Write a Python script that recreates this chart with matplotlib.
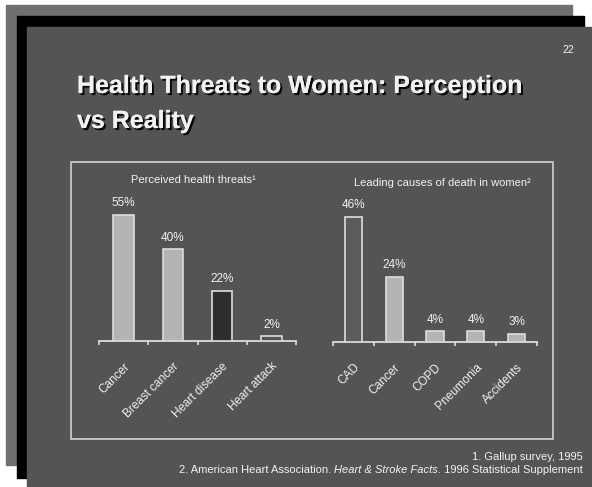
import numpy as np
import matplotlib.pyplot as plt
import matplotlib.patheffects as pe
from matplotlib.patches import Rectangle

plt.rcParams['font.family'] = ['Liberation Sans', 'DejaVu Sans']

# datos
perc_cats = ["Cancer", "Breast cancer", "Heart disease", "Heart attack"]
perc_vals = [55, 40, 22, 2]
death_cats = ["CAD", "Cancer", "COPD", "Pneumonia", "Accidents"]
death_vals = [46, 24, 4, 4, 3]

# colores
BG = "#545454"
LIGHT = "#b4b4b4"
DARK = "#2e2e2e"
EDGE = "#dcdcdc"
TXT = "#f2f2f2"
perc_colors = [LIGHT, LIGHT, DARK, BG]
death_colors = ["#5c5c5c", LIGHT, LIGHT, LIGHT, LIGHT]

W, H = 592, 487
fig = plt.figure(figsize=(W / 100, H / 100), dpi=100)
fig.patch.set_facecolor("white")

bg = fig.add_axes([0, 0, 1, 1])
bg.set_xlim(0, W)
bg.set_ylim(H, 0)
bg.axis("off")

# pila de diapositivas
bg.add_patch(Rectangle((6, 5), 566, 460, color="#707070", zorder=1))
bg.add_patch(Rectangle((17, 16), 567, 462, color="black", zorder=2))
bg.add_patch(Rectangle((27, 27), W - 27, H - 27, color=BG, zorder=3))
bg.add_patch(Rectangle((71, 162), 482, 277, fill=False, ec="#c8c8c8", lw=1.3, zorder=4))

shadow = [pe.withSimplePatchShadow(offset=(1.5, -1.5), shadow_rgbFace="black", alpha=0.9), pe.Normal()]
bg.text(77, 86, "Health Threats to Women: Perception", fontsize=18, fontweight="bold",
        color=TXT, va="center", ha="left", zorder=5, path_effects=shadow)
bg.text(77, 121, "vs Reality", fontsize=18, fontweight="bold",
        color=TXT, va="center", ha="left", zorder=5, path_effects=shadow)
bg.text(568, 50, "22", fontsize=7.5, color=TXT, ha="center", va="center", zorder=5)

# notas al pie, alineadas a la derecha
bg.text(583, 457, "1. Gallup survey, 1995", fontsize=8, color=TXT, ha="right", va="center", zorder=5)
renderer = fig.canvas.get_renderer()
pieces = [("2. American Heart Association. ", "normal"), ("Heart & Stroke Facts", "italic"),
          (". 1996 Statistical Supplement", "normal")]
x = 583
for txt, style in reversed(pieces):
    t = bg.text(x, 470, txt, fontsize=8, color=TXT, ha="right", va="center", style=style, zorder=5)
    x -= t.get_window_extent(renderer).width


def bar_panel(left, bottom, width, ymax, pxper, cats, vals, colors):
    height = ymax * pxper
    ax = fig.add_axes([left / W, (H - bottom) / H, width / W, height / H])
    ax.set_facecolor("none")
    n = len(cats)
    xs = np.arange(n)
    ax.bar(xs, vals, width=0.42, color=colors, edgecolor=EDGE, linewidth=1.2, zorder=3)
    for xi, v in zip(xs, vals):
        ax.annotate(f"{v}%", (xi, v), xytext=(0, 4), textcoords="offset points",
                    ha="center", va="bottom", fontsize=8.5, color=TXT)
    ax.set_xlim(-0.5, n - 0.5)
    ax.set_ylim(0, ymax)
    for s in ["top", "right", "left"]:
        ax.spines[s].set_visible(False)
    ax.spines["bottom"].set_color(EDGE)
    ax.spines["bottom"].set_linewidth(1.3)
    ax.set_yticks([])
    ax.set_xticks(xs)
    ax.set_xticklabels(cats, rotation=45, ha="right", rotation_mode="anchor",
                       fontsize=8.5, color=TXT)
    ax.tick_params(axis="x", which="major", length=0, pad=14)
    ax.set_xticks(np.arange(-0.5, n, 1), minor=True)
    ax.tick_params(axis="x", which="minor", length=3, width=1.2, color=EDGE, direction="out")
    return ax


bar_panel(99, 341, 197, 60, 2.29, perc_cats, perc_vals, perc_colors)
bar_panel(333, 342, 204, 50, 2.72, death_cats, death_vals, death_colors)

bg.text(193, 180, "Perceived health threats\u00b9", fontsize=8, color=TXT, ha="center", va="center", zorder=5)
bg.text(442, 183, "Leading causes of death in women\u00b2", fontsize=8, color=TXT, ha="center", va="center", zorder=5)

fig.savefig("out.png", dpi=100, facecolor=fig.get_facecolor())
